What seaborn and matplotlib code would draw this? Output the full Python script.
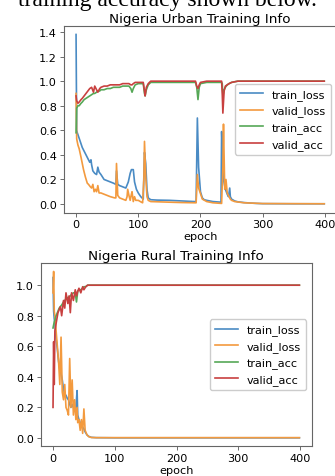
import matplotlib
matplotlib.use('Agg')
import matplotlib.pyplot as plt
import seaborn as sns

# ---- Nigeria Urban ----
u_loss_ep = [0, 1, 2, 4, 6, 8, 10, 13, 16, 19, 22, 24, 25, 27, 30, 33, 35, 37, 40, 45, 50,
             55, 60, 64, 65, 67, 70, 75, 80, 84, 87, 89, 92, 94, 97, 100, 104, 107, 108,
             110, 112, 114, 116, 120, 130, 150, 170, 190, 193, 195, 197, 200, 203, 206,
             210, 220, 233, 234, 235, 237, 240, 243, 245, 247, 248, 250, 255, 260, 270,
             280, 290, 300, 350, 399]
u_train_loss = [1.38, 0.60, 0.58, 0.55, 0.52, 0.49, 0.46, 0.43, 0.40, 0.37, 0.34, 0.36,
                0.32, 0.27, 0.25, 0.24, 0.30, 0.26, 0.24, 0.20, 0.19, 0.18, 0.17, 0.16,
                0.27, 0.16, 0.15, 0.14, 0.13, 0.18, 0.25, 0.28, 0.28, 0.18, 0.12, 0.09,
                0.06, 0.045, 0.04, 0.42, 0.33, 0.12, 0.05, 0.035, 0.032, 0.03, 0.025,
                0.02, 0.02, 0.70, 0.30, 0.10, 0.05, 0.035, 0.03, 0.02, 0.015, 0.59, 0.45,
                0.20, 0.12, 0.08, 0.06, 0.13, 0.06, 0.04, 0.025, 0.018, 0.012, 0.008,
                0.005, 0.003, 0.002, 0.002]

u_vloss_ep = [0, 1, 3, 5, 8, 10, 12, 15, 18, 20, 23, 25, 27, 29, 31, 33, 35, 37, 40, 45,
              50, 55, 62, 64, 65, 67, 70, 75, 80, 82, 83, 85, 87, 89, 90, 92, 94, 96,
              100, 105, 107, 109, 110, 112, 114, 116, 120, 150, 170, 193, 195, 197, 199,
              203, 210, 220, 234, 236, 237, 239, 241, 243, 245, 248, 250, 255, 270, 300,
              350, 399]
u_valid_loss = [0.90, 0.53, 0.48, 0.45, 0.38, 0.33, 0.28, 0.22, 0.17, 0.16, 0.14, 0.13,
                0.16, 0.10, 0.12, 0.10, 0.15, 0.09, 0.09, 0.08, 0.07, 0.06, 0.05, 0.05,
                0.33, 0.07, 0.05, 0.04, 0.03, 0.06, 0.12, 0.07, 0.03, 0.08, 0.10, 0.02,
                0.06, 0.03, 0.03, 0.015, 0.01, 0.20, 0.51, 0.22, 0.06, 0.03, 0.02, 0.015,
                0.012, 0.01, 0.24, 0.13, 0.10, 0.04, 0.02, 0.01, 0.005, 0.30, 0.65, 0.12,
                0.20, 0.09, 0.07, 0.04, 0.03, 0.02, 0.01, 0.004, 0.003, 0.002]

u_acc_ep = [0, 1, 3, 5, 8, 10, 13, 16, 19, 22, 25, 28, 30, 33, 35, 38, 40, 45, 50, 55, 60,
            65, 70, 75, 80, 85, 88, 90, 92, 95, 100, 105, 108, 110, 111, 113, 116, 120,
            140, 160, 180, 192, 194, 196, 198, 200, 210, 230, 234, 235, 236, 238, 240,
            243, 246, 250, 260, 300, 350, 399]
u_train_acc = [0.58, 0.78, 0.80, 0.80, 0.82, 0.83, 0.85, 0.86, 0.87, 0.88, 0.89, 0.90,
               0.90, 0.91, 0.92, 0.92, 0.93, 0.93, 0.94, 0.94, 0.95, 0.95, 0.95, 0.96,
               0.96, 0.96, 0.94, 0.91, 0.94, 0.97, 0.98, 0.98, 0.98, 0.90, 0.88, 0.93,
               0.97, 0.99, 0.99, 0.99, 0.99, 0.99, 0.95, 0.85, 0.95, 0.98, 0.99, 0.99,
               0.99, 0.98, 0.88, 0.93, 0.95, 0.97, 0.98, 0.99, 1.00, 1.00, 1.00, 1.00]
u_valid_acc = [0.88, 0.84, 0.82, 0.83, 0.85, 0.86, 0.88, 0.90, 0.92, 0.94, 0.95, 0.91,
               0.96, 0.93, 0.91, 0.94, 0.95, 0.96, 0.96, 0.97, 0.97, 0.97, 0.97, 0.98,
               0.98, 0.98, 0.97, 0.97, 0.98, 0.99, 0.99, 0.99, 0.99, 0.92, 0.88, 0.95,
               0.98, 1.00, 1.00, 1.00, 1.00, 1.00, 0.96, 0.94, 0.97, 0.99, 1.00, 1.00,
               1.00, 0.90, 0.74, 0.92, 0.96, 0.97, 0.98, 0.99, 1.00, 1.00, 1.00, 1.00]

# ---- Nigeria Rural ----
r_loss_ep = [0, 1, 2, 3, 5, 7, 9, 11, 13, 15, 17, 19, 21, 23, 25, 27, 29, 31, 33, 35, 37,
             39, 40, 42, 44, 46, 48, 50, 52, 55, 58, 62, 70, 100, 200, 300, 399]
r_train_loss = [1.05, 0.83, 0.78, 0.75, 0.65, 0.58, 0.50, 0.45, 0.42, 0.38, 0.32, 0.28,
                0.28, 0.26, 0.25, 0.22, 0.20, 0.22, 0.20, 0.18, 0.20, 0.31, 0.15, 0.12,
                0.10, 0.09, 0.07, 0.06, 0.04, 0.02, 0.01, 0.004, 0.002, 0.001, 0.001,
                0.001, 0.001]
r_valid_loss = [0.95, 1.09, 0.83, 0.80, 0.70, 0.60, 0.50, 0.35, 0.66, 0.30, 0.25, 0.35,
                0.20, 0.18, 0.15, 0.52, 0.20, 0.38, 0.15, 0.25, 0.12, 0.20, 0.10, 0.12,
                0.05, 0.12, 0.03, 0.19, 0.05, 0.02, 0.008, 0.003, 0.002, 0.002, 0.002,
                0.002, 0.002]

r_acc_ep = [0, 1, 2, 3, 5, 8, 10, 12, 14, 17, 19, 21, 24, 26, 28, 30, 33, 36, 38, 40, 42,
            45, 48, 50, 53, 56, 60, 100, 200, 300, 399]
r_train_acc = [0.72, 0.74, 0.76, 0.77, 0.80, 0.83, 0.85, 0.86, 0.87, 0.89, 0.90, 0.91,
               0.92, 0.92, 0.93, 0.94, 0.95, 0.95, 0.89, 0.96, 0.97, 0.97, 0.98, 0.99,
               0.99, 1.00, 1.00, 1.00, 1.00, 1.00, 1.00]
r_valid_acc = [0.20, 0.63, 0.35, 0.70, 0.75, 0.82, 0.84, 0.86, 0.80, 0.90, 0.85, 0.95,
               0.88, 0.93, 0.82, 0.95, 0.90, 0.97, 0.93, 0.96, 0.98, 0.95, 0.99, 0.97,
               0.99, 1.00, 1.00, 1.00, 1.00, 1.00, 1.00]

labels = ['train_loss', 'valid_loss', 'train_acc', 'valid_acc']
colors = ['#4a8bc4', '#f39a3e', '#56a857', '#c8403f']

fig = plt.figure(figsize=(3.35, 4.77), dpi=100)
# sentence of the surrounding document, cut off at the top like in the screenshot
fig.text(0.5, 1 - 6 / 477, 'training accuracy shown below.', ha='center',
         va='baseline', fontsize=17, family='Liberation Serif')


def draw(ax, series, title):
    for (ep, vals), lab, c in zip(series, labels, colors):
        sns.lineplot(x=ep, y=vals, ax=ax, label=lab, color=c, lw=1.2,
                     estimator=None, sort=False)
    ax.set_title(title, fontsize=9.7, pad=3)
    ax.set_xlabel('epoch', fontsize=8.1, labelpad=1)
    ax.set_ylabel('')
    ax.set_xticks([0, 100, 200, 300, 400])
    ax.tick_params(labelsize=8.1, length=3, width=0.6, pad=2, color='#555555')
    for s in ax.spines.values():
        s.set_color('#666666')
        s.set_linewidth(0.8)
    ax.legend(loc='center right', fontsize=8.1, handlelength=2.0,
              borderpad=0.45, labelspacing=0.5, framealpha=1)


ax1 = fig.add_axes([0.190, 0.5524, 0.815, 0.391])
draw(ax1, [(u_loss_ep, u_train_loss), (u_vloss_ep, u_valid_loss),
           (u_acc_ep, u_train_acc), (u_acc_ep, u_valid_acc)],
     'Nigeria Urban Training Info')
ax1.set_xlim(-19.95, 418.95)
ax1.set_ylim(-0.069, 1.449)
ax1.set_yticks([0.0, 0.2, 0.4, 0.6, 0.8, 1.0, 1.2, 1.4])

ax2 = fig.add_axes([0.1215, 0.0623, 0.809, 0.384])
draw(ax2, [(r_loss_ep, r_train_loss), (r_loss_ep, r_valid_loss),
           (r_acc_ep, r_train_acc), (r_acc_ep, r_valid_acc)],
     'Nigeria Rural Training Info')
ax2.set_xlim(-19.95, 418.95)
ax2.set_ylim(-0.0545, 1.1445)
ax2.set_yticks([0.0, 0.2, 0.4, 0.6, 0.8, 1.0])

fig.savefig('out.png', dpi=100)
